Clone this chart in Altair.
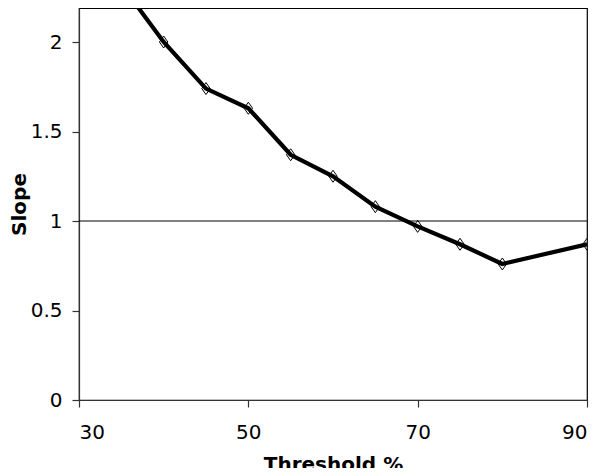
import altair as alt
import pandas as pd

threshold = [35, 40, 45, 50, 55, 60, 65, 70, 75, 80, 90]
slope = [2.32, 2.00, 1.74, 1.63, 1.37, 1.25, 1.08, 0.97, 0.87, 0.76, 0.87]
x_ticks = [30, 50, 70, 90]
y_ticks = [0, 0.5, 1, 1.5, 2]
ref_line = [1]

df = pd.DataFrame({"Threshold": threshold, "Slope": slope})
ref = pd.DataFrame({"y": ref_line})

FONT = "DejaVu Sans"

x = alt.X("Threshold:Q", title="Threshold %",
          scale=alt.Scale(domain=[30, 90], nice=False, zero=False),
          axis=alt.Axis(values=x_ticks, grid=False, tickSize=7, labelPadding=15,
                        titlePadding=12))
y = alt.Y("Slope:Q", title="Slope",
          scale=alt.Scale(domain=[0, 2.19], nice=False),
          axis=alt.Axis(values=y_ticks, grid=False, tickSize=7, labelPadding=10,
                        labelExpr="toString(datum.value)", titlePadding=1))

line = alt.Chart(df).mark_line(color="black", strokeWidth=4.2, clip=True).encode(x=x, y=y)
pts = alt.Chart(df).mark_point(shape="M0,-1L0.7,0L0,1L-0.7,0Z", filled=False, color="black",
                               size=144, strokeWidth=1, clip=True, opacity=1).encode(x=x, y=y)
rule = alt.Chart(ref).mark_rule(color="black", strokeWidth=1).encode(y=alt.Y("y:Q"))

chart = alt.layer(rule, line, pts).properties(
    width=508, height=392,
    autosize=alt.AutoSizeParams(type="none"),
    padding={"left": 71, "top": 0, "right": 4, "bottom": 68},
).configure_view(stroke="black", strokeWidth=1.2).configure_axis(
    labelFont=FONT, labelFontSize=20, labelColor="black",
    titleFont=FONT, titleFontSize=20, titleFontWeight="bold", titleColor="black",
    domainColor="#333", tickColor="#333", domainWidth=1.2, tickWidth=1.2,
)

chart.save("out.html", embed_options={"renderer": "svg", "actions": False})
